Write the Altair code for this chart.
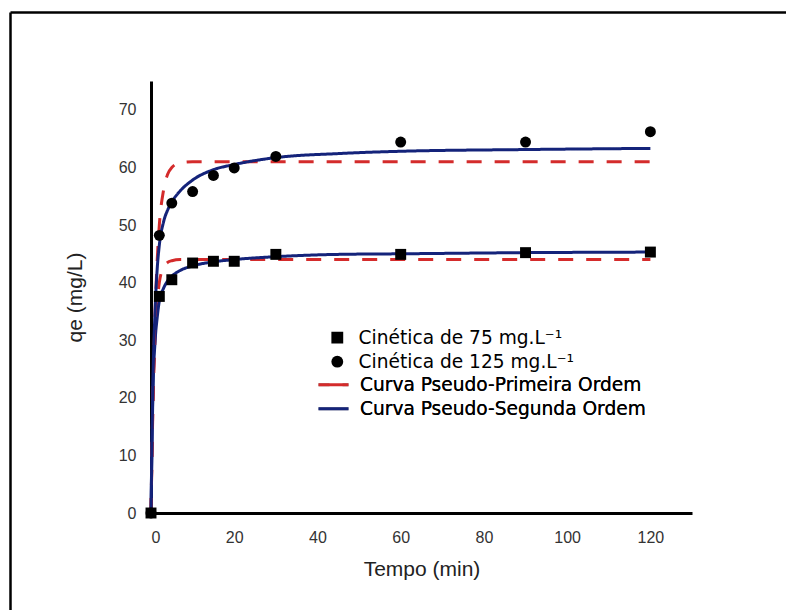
import altair as alt
import pandas as pd

# ---- data ----
lab75 = "Cinética de 75 mg.L⁻¹"
lab125 = "Cinética de 125 mg.L⁻¹"
pfo_lab = "Curva Pseudo-Primeira Ordem"
pso_lab = "Curva Pseudo-Segunda Ordem"

t_pts = [0, 2, 5, 10, 15, 20, 30, 60, 90, 120]
q75 = [0, 37.6, 40.5, 43.4, 43.7, 43.7, 44.9, 44.9, 45.2, 45.3]
q125 = [0, 48.2, 53.8, 55.8, 58.6, 59.9, 61.9, 64.4, 64.4, 66.2]

t_curve = [0, 0.5, 1, 1.5, 2, 3, 4, 5, 7, 10, 15, 20, 30, 45, 60, 90, 120]
pfo75 = [0, 19.5, 30.5, 36.5, 40.0, 42.6, 43.5, 43.8, 44.0, 44.0, 44.0, 44.0, 44.0, 44.0, 44.0, 44.0, 44.0]
pso75 = [0, 22.0, 30.0, 34.0, 36.8, 39.0, 40.3, 41.1, 42.1, 42.9, 43.6, 44.0, 44.5, 44.9, 45.0, 45.2, 45.3]
pfo125 = [0, 21.0, 35.0, 44.0, 50.0, 56.0, 58.8, 60.0, 60.8, 61.0, 61.0, 61.0, 61.0, 61.0, 61.0, 61.0, 61.0]
pso125 = [0, 24.0, 35.5, 42.5, 46.5, 50.5, 52.6, 54.0, 55.9, 57.8, 59.6, 60.5, 61.7, 62.4, 62.8, 63.1, 63.3]

x_ticks = [0, 20, 40, 60, 80, 100, 120]
y_ticks = [0, 10, 20, 30, 40, 50, 60, 70]

# ---- tables ----
pts = pd.DataFrame(
    {"t": t_pts * 2, "qe": q75 + q125, "amostra": [lab75] * len(t_pts) + [lab125] * len(t_pts)}
)
curves = pd.concat(
    [
        pd.DataFrame({"t": t_curve, "qe": pfo75, "modelo": pfo_lab, "amostra": "75"}),
        pd.DataFrame({"t": t_curve, "qe": pso75, "modelo": pso_lab, "amostra": "75"}),
        pd.DataFrame({"t": t_curve, "qe": pfo125, "modelo": pfo_lab, "amostra": "125"}),
        pd.DataFrame({"t": t_curve, "qe": pso125, "modelo": pso_lab, "amostra": "125"}),
    ],
    ignore_index=True,
)

RED = "#d42b2b"
NAVY = "#14237a"
LEG_FONT = "DejaVu Sans"
LEG_SIZE = 18.6

x_enc = alt.X(
    "t:Q",
    scale=alt.Scale(domain=[0, 130], nice=False),
    axis=alt.Axis(
        values=x_ticks, title="Tempo (min)", grid=False, ticks=False, tickSize=0,
        labelPadding=16, titleY=56, titleBaseline="middle",
    ),
)
y_enc = alt.Y(
    "qe:Q",
    scale=alt.Scale(domain=[0, 75], nice=False),
    axis=alt.Axis(
        values=y_ticks, title="qe (mg/L)", grid=False, ticks=False, tickSize=0,
        labelPadding=15, titleX=-76, titleY=216, titleBaseline="middle", titleAlign="center",
    ),
)

frame_df = pd.DataFrame({"k": [0]})
frame_top = alt.Chart(frame_df).mark_rule(color="black", strokeWidth=2.5).encode(
    x=alt.value(-140.5), x2=alt.value(640), y=alt.value(-68.5)
)
frame_left = alt.Chart(frame_df).mark_rule(color="black", strokeWidth=2.5).encode(
    x=alt.value(-140.5), y=alt.value(-68.5), y2=alt.value(535)
)

line_legend = alt.Legend(
    orient="none", legendX=166, legendY=292, title=None, symbolType="stroke",
    symbolSize=900, symbolStrokeWidth=3, labelFont=LEG_FONT, labelFontSize=LEG_SIZE,
    labelColor="black", labelOffset=10, rowPadding=0, clipHeight=23.4, padding=0,
    labelLimit=500, symbolDashOffset=4,
)
lines = alt.Chart(curves).mark_line(strokeWidth=3, interpolate="monotone").encode(
    x=x_enc,
    y=y_enc,
    color=alt.Color(
        "modelo:N", scale=alt.Scale(domain=[pfo_lab, pso_lab], range=[RED, NAVY]), legend=line_legend
    ),
    strokeDash=alt.StrokeDash(
        "modelo:N", scale=alt.Scale(domain=[pfo_lab, pso_lab], range=[[15, 13], [1, 0]]), legend=line_legend
    ),
    detail="amostra:N",
)

points = alt.Chart(pts).mark_point(filled=True, color="black", opacity=1, size=120).encode(
    x=x_enc,
    y=y_enc,
    shape=alt.Shape(
        "amostra:N",
        scale=alt.Scale(domain=[lab75, lab125], range=["square", "circle"]),
        legend=alt.Legend(
            orient="none", legendX=177, legendY=245, title=None, symbolSize=140,
            symbolFillColor="black", symbolStrokeColor="black", symbolStrokeWidth=0,
            labelFont=LEG_FONT, labelFontSize=LEG_SIZE, labelColor="black", labelOffset=12,
            rowPadding=0, clipHeight=23.4, padding=0, labelLimit=500,
        ),
    ),
)

chart = (
    alt.layer(frame_top, frame_left, lines, points)
    .resolve_legend(color="independent", shape="independent")
    .properties(
        width=541,
        height=432,
        autosize=alt.AutoSizeParams(type="none"),
        padding={"left": 151, "top": 81, "right": 94, "bottom": 97},
        background="white",
    )
    .configure_view(stroke=None)
    .configure_axis(
        domainColor="black", domainWidth=3, labelFont="Liberation Sans", labelFontSize=16,
        labelColor="#333333", titleFont="Liberation Sans", titleFontSize=21,
        titleFontWeight="normal", titleColor="#222222",
    )
)

chart.save("out.html", embed_options={"renderer": "svg", "actions": False})
